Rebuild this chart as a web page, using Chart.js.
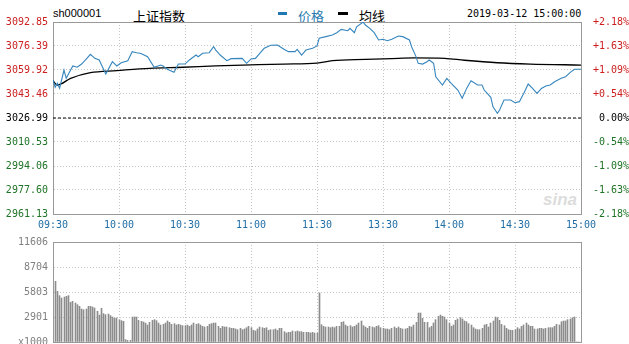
<!DOCTYPE html>
<html><head><meta charset="utf-8">
<script src="https://cdn.jsdelivr.net/npm/chart.js@4.4.1/dist/chart.umd.min.js"></script>
<style>
html,body{margin:0;padding:0;background:#fff;width:629px;height:344px;overflow:hidden;position:relative;}
canvas{position:absolute;left:0;}
#main{top:0;}
#vol{top:230px;}
.t{position:absolute;white-space:nowrap;line-height:13px;}
</style></head><body>
<div class="t" style="left:53px;top:7px;font:11px 'Liberation Sans',Arial,sans-serif;color:#000">sh000001</div>
<div class="t" style="left:133px;top:6px;font:13px 'Noto Sans CJK SC',sans-serif;color:#000">上证指数</div>
<div class="t" style="left:278px;top:12px;width:9px;height:3px;background:#1f78b4"></div>
<div class="t" style="left:298px;top:6px;font:13px 'Noto Sans CJK SC',sans-serif;color:#2a7ab0">价格</div>
<div class="t" style="left:338px;top:12px;width:10px;height:3px;background:#000"></div>
<div class="t" style="left:359px;top:6px;font:13px 'Noto Sans CJK SC',sans-serif;color:#000">均线</div>
<div class="t" style="left:467px;top:8px;font:10px 'DejaVu Sans Mono',monospace;color:#000">2019-03-12 15:00:00</div>
<div class="t" style="left:543px;top:190px;font:italic bold 17px 'Liberation Sans',Arial,sans-serif;color:rgba(190,190,190,0.55)">sina</div>
<canvas id="main" width="629" height="236"></canvas>
<canvas id="vol" width="629" height="124"></canvas>
<script>
// ---- data ----
const tickMinutes = [0,30,60,90,120,150,180,210,240];
const timeLabels = ["09:30","10:00","10:30","11:00","11:30","13:30","14:00","14:30","15:00"];
const priceTicks = ["2961.13","2977.60","2994.06","3010.53","3026.99","3043.46","3059.92","3076.39","3092.85"];
const pctTicks = ["-2.18%","-1.63%","-1.09%","-0.54%","0.00%","+0.54%","+1.09%","+1.63%","+2.18%"];
const prevClose = 3026.99;

const priceMinute = [0,1,2,3,5,6,9,11,13,15,17,19,21,24,27,29,31,34,36,38,40,43,46,49,50,52,55,57,60,62,65,66,68,71,73,74,76,79,81,86,88,90,92,94,96,99,102,105,107,110,111,113,115,118,120,
  121,124,127,129,131,134,135,137,138,141,142,144,146,148,150,152,154,157,159,162,163,165,166,168,170,171,173,174,177,179,181,184,186,188,190,193,195,196,199,200,202,203,205,208,210,212,214,216,218,220,222,224,226,228,231,233,235,237,240];
const priceValue = [3053.1,3048.0,3050.8,3047.4,3059.9,3054.2,3062.7,3061.8,3064.0,3067.2,3070.7,3067.9,3066.8,3057.2,3065.6,3062.7,3064.9,3066.3,3072.5,3071.8,3071.3,3069.0,3061.8,3063.3,3062.7,3060.4,3058.3,3064.0,3064.0,3066.8,3070.2,3069.0,3071.4,3071.8,3075.9,3073.6,3070.2,3066.3,3067.7,3067.9,3064.5,3067.5,3067.9,3071.4,3074.8,3076.9,3077.1,3074.1,3072.5,3072.5,3074.1,3070.2,3073.6,3074.8,3076.4,
  3081.7,3082.8,3083.9,3085.5,3087.8,3086.9,3088.5,3085.5,3089.6,3092.8,3090.8,3088.5,3085.5,3080.5,3081.0,3080.0,3081.0,3083.2,3082.8,3080.5,3075.9,3069.1,3064.5,3064.0,3065.6,3066.8,3064.5,3055.3,3049.6,3054.2,3050.8,3046.2,3040.5,3047.3,3052.6,3049.6,3049.6,3046.2,3041.2,3034.7,3030.2,3032.5,3039.3,3039.3,3037.5,3038.2,3043.9,3050.3,3047.3,3043.9,3047.3,3048.9,3049.6,3051.9,3054.2,3055.3,3058.1,3060.4,3060.4];

const avgMinute = [0,2,8,17,29,44,59,74,90,105,120,127,142,157,164,178,187,202,217,240];
const avgValue = [3052.5,3049.6,3054.2,3058.1,3059.5,3061.1,3061.8,3062.7,3063.4,3064.0,3064.6,3066.3,3067.2,3067.9,3068.2,3067.9,3066.6,3064.9,3064.0,3063.3];

const volTicks = [0,2901,5803,8704,11606];
const volTickLabels = ["x1000","2901","5803","8704","11606"];
const volumeAM = [0,
  7040,5880,5380,5100,5220,5300,5380,4600,4720,4530,
  4330,4140,3830,3750,3830,4140,4140,4060,3950,3560,
  3130,3910,3290,3170,3250,3060,2900,2750,2790,2590,
  2480,2400,270,190,190,2900,2900,2900,2510,2400,
  2320,2200,1970,2280,2510,2590,2480,2200,1970,2050,
  2200,2440,2280,2050,2130,1970,2050,1970,1900,1900,
  1970,1820,1970,2200,2050,2130,1970,1820,1740,1820,
  2050,2130,2200,2200,1820,1590,1820,1740,1740,1660,
  1590,1590,1510,1430,1590,1430,1510,1660,1820,1660,
  1350,1280,1510,1740,1660,1590,1660,1350,1430,1430,
  1510,1350,1590,1590,1200,1040,1120,1120,1280,1200,
  1280,1200,1200,1120,1120,1120,1040,1120,1040,1040];
const volumePM = [
  5690,2010,1818,1741,1741,1663,1741,1663,1818,1818,
  2282,2360,1973,1818,1895,1741,1818,1973,2205,2437,
  1895,1741,1586,1818,1741,1663,1818,1895,1663,1586,
  1508,1508,1431,1586,1741,1586,1741,1586,1508,1508,
  1586,1818,1741,1973,2282,3365,3365,2746,2282,2282,
  1663,1818,2205,2592,2978,3133,2978,2901,2592,2205,
  1818,1973,2514,2669,2824,2669,2437,2360,2127,1973,
  1663,1508,1431,1431,1586,1973,2050,1741,2205,2437,
  2901,2824,2514,2050,1895,1586,1431,1354,1354,1431,
  1663,1508,1818,1973,2205,1973,1818,1818,1508,1508,
  1586,1586,1508,1586,1663,1663,1663,1818,2050,1973,
  2360,2437,2437,2592,2669,2824,2901,
  0,0,0];

// ---- styling ----
const RED = '#cc1f1f', GREEN = '#1f7326', BLUE_TXT = '#1f6ea6';
const MONO = "'DejaVu Sans Mono', monospace";
const GRID = '#c4c4c4';
const tickColor = (c) => {
  const v = c.tick ? c.tick.value : 0;
  if (v > prevClose + 0.001) return RED;
  if (v < prevClose - 0.001) return GREEN;
  return '#000';
};
const framePlugin = {
  id: 'frame',
  beforeDatasetsDraw(chart) {
    const {ctx, chartArea: a} = chart;
    ctx.save();
    ctx.strokeStyle = '#999';
    ctx.lineWidth = 1;
    ctx.strokeRect(Math.round(a.left) + 0.5, Math.round(a.top) + 0.5,
      Math.round(a.right - a.left), Math.round(a.bottom - a.top));
    ctx.restore();
  }
};
// snap 1px volume bars to whole pixel columns so they render crisp
const snapPlugin = {
  id: 'snap',
  beforeDatasetsDraw(chart) {
    chart.getDatasetMeta(0).data.forEach(el => { el.x = Math.floor(el.x) + 0.5; });
  }
};

const priceNums = priceTicks.map(Number);

new Chart(document.getElementById('main'), {
  type: 'line',
  data: {
    datasets: [
      { data: priceMinute.map((m, i) => ({x: m, y: priceValue[i]})),
        borderColor: '#3686bd', borderWidth: 1.1, pointRadius: 0, tension: 0, yAxisID: 'y' },
      { data: avgMinute.map((m, i) => ({x: m, y: avgValue[i]})),
        borderColor: '#000', borderWidth: 1.3, pointRadius: 0, cubicInterpolationMode: 'monotone', yAxisID: 'y' },
      { data: [{x: tickMinutes[0], y: prevClose}, {x: tickMinutes[tickMinutes.length - 1], y: prevClose}],
        borderColor: '#000', borderWidth: 1, borderDash: [3, 2], pointRadius: 0, yAxisID: 'y' }
    ]
  },
  options: {
    responsive: false, animation: false, events: [],
    layout: {padding: {top: 22, left: 0, right: 0, bottom: 0}},
    plugins: {legend: {display: false}, tooltip: {enabled: false}},
    scales: {
      x: {
        type: 'linear', min: 0, max: 240,
        afterBuildTicks: s => { s.ticks = tickMinutes.map(v => ({value: v})); },
        afterFit: s => { s.height = 22; },
        grid: {color: GRID, lineWidth: 1, drawTicks: false},
        border: {display: true, color: '#999', dash: [1, 2]},
        ticks: {callback: (v, i) => timeLabels[i], color: BLUE_TXT, font: {family: MONO, size: 10}, padding: 5, maxRotation: 0, autoSkip: false}
      },
      y: {
        position: 'left', min: priceNums[0], max: priceNums[priceNums.length - 1],
        afterBuildTicks: s => { s.ticks = priceNums.map(v => ({value: v})); },
        afterFit: s => { s.width = 53; },
        grid: {color: GRID, lineWidth: 1, drawTicks: false},
        border: {display: true, color: '#999', dash: [1, 2]},
        ticks: {callback: (v, i) => priceTicks[i], color: tickColor, font: {family: MONO, size: 10}, padding: 5, autoSkip: false}
      },
      y1: {
        position: 'right', min: priceNums[0], max: priceNums[priceNums.length - 1],
        afterBuildTicks: s => { s.ticks = priceNums.map(v => ({value: v})); },
        afterFit: s => { s.width = 48; },
        grid: {display: false, drawTicks: false},
        border: {display: true, color: '#999'},
        ticks: {callback: (v, i) => pctTicks[i], color: tickColor, font: {family: MONO, size: 10}, padding: 4, crossAlign: 'far', autoSkip: false}
      }
    }
  },
  plugins: [framePlugin]
});

const volume = volumeAM.concat(volumePM);
new Chart(document.getElementById('vol'), {
  type: 'bar',
  data: {
    datasets: [{ data: volume.map((v, i) => ({x: i, y: v})),
      backgroundColor: '#8c8c8c', barThickness: 1, borderWidth: 0 }]
  },
  options: {
    responsive: false, animation: false, events: [],
    layout: {padding: {top: 12, left: 0, right: 48, bottom: 0}},
    plugins: {legend: {display: false}, tooltip: {enabled: false}},
    scales: {
      x: {
        type: 'linear', min: 0, max: 240, offset: false,
        afterBuildTicks: s => { s.ticks = tickMinutes.map(v => ({value: v})); },
        afterFit: s => { s.height = 12; },
        grid: {color: GRID, lineWidth: 1, drawTicks: false, offset: false},
        border: {display: true, color: '#999', dash: [1, 2]},
        ticks: {display: false}
      },
      y: {
        min: volTicks[0], max: volTicks[volTicks.length - 1],
        afterBuildTicks: s => { s.ticks = volTicks.map(v => ({value: v})); },
        afterFit: s => { s.width = 53; },
        grid: {color: GRID, lineWidth: 1, drawTicks: false},
        border: {display: true, color: '#999', dash: [1, 2]},
        ticks: {callback: (v, i) => volTickLabels[i], color: '#808080', font: {family: MONO, size: 10}, padding: 5, autoSkip: false}
      }
    }
  },
  plugins: [framePlugin, snapPlugin]
});
</script>
</body></html>
